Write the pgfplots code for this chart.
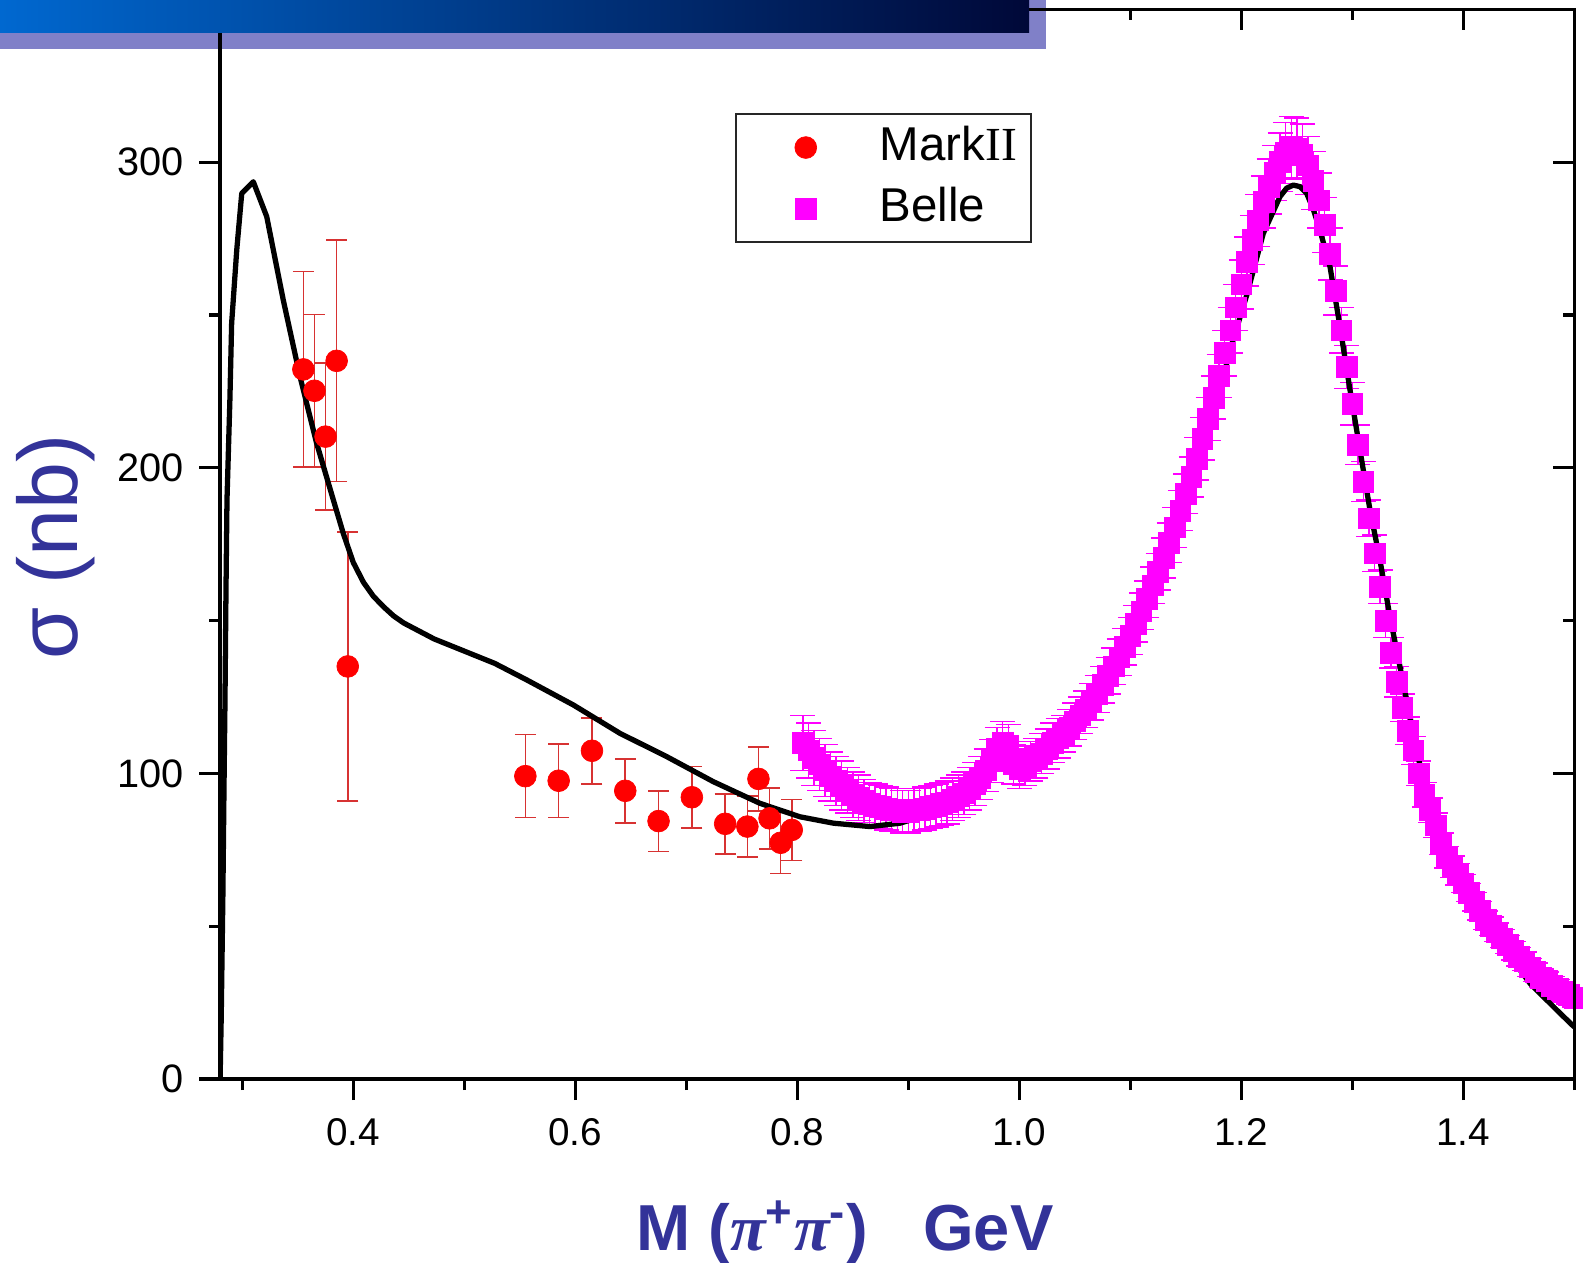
\documentclass[border=0pt]{standalone}
\usepackage{pgfplots}
\pgfplotsset{compat=1.18}
\usepackage{pgfplotstable}
\usepackage{fontspec}
\setmainfont{Liberation Sans}
\newfontfamily\seriffont{Liberation Serif}
\definecolor{lblblue}{RGB}{51,51,153}
\definecolor{bannerL}{RGB}{0,104,208}
\definecolor{bannerR}{RGB}{0,8,56}
\definecolor{shadowc}{RGB}{128,128,200}
\definecolor{bellec}{RGB}{255,0,255}
\definecolor{markred}{RGB}{255,0,0}
\definecolor{errred}{RGB}{215,50,50}

\pgfplotstableread{
x y e
0.355 232.2 32
0.365 225.2 25
0.375 210.2 24
0.385 235.0 39.5
0.395 135.0 44
0.555 99.1 13.6
0.585 97.6 12
0.615 107.4 10.8
0.645 94.3 10.5
0.675 84.4 9.9
0.705 92.2 10
0.735 83.5 9.8
0.755 82.6 10
0.765 98.2 10.5
0.775 85.3 10
0.785 77.3 10
0.795 81.5 10
}\markii

\pgfplotstableread{
x y e
0.805 110 9
0.810 107.5 9
0.815 105 9
0.820 103 8.5
0.825 101 8.5
0.830 99 8
0.835 97.5 8
0.840 96 8
0.845 94.5 7.5
0.850 93 7.5
0.855 92 7.5
0.860 91 7
0.865 90 7
0.870 89.5 7
0.875 89 7
0.880 88.5 7
0.885 88 7
0.890 88 7
0.895 87.5 7
0.900 87.5 7
0.905 88 7
0.910 88 7
0.915 88.5 7
0.920 89 7
0.925 89.5 7
0.930 90 7
0.935 90.5 7
0.940 91.5 7
0.945 92.5 7
0.950 93.5 7
0.955 95 7
0.960 96.5 7
0.965 98.5 7
0.970 101 7
0.975 104 7
0.980 108 7
0.985 110 7
0.990 109 7
0.995 103 6.5
1.000 101.5 6.5
1.005 102.5 6.5
1.010 104 6.5
1.015 105 6.5
1.020 106.5 6.5
1.025 108 6.5
1.030 110 6.5
1.035 111.5 6.5
1.040 113 6
1.045 115 6
1.050 117 6
1.055 119 6
1.060 121 6
1.065 123.5 6
1.070 126 6
1.075 129 6
1.080 132 6
1.085 135 6
1.090 138 6
1.095 141.5 6
1.100 145 6
1.105 149 6
1.110 153 6
1.115 157 6
1.120 161.5 6
1.125 166 6
1.130 170.5 6.5
1.135 175.5 6.5
1.140 180.5 6.5
1.145 186 6.5
1.150 191.5 6.5
1.155 197 6.5
1.160 203 7
1.165 209.5 7
1.170 216 7
1.175 223 7
1.180 230 7
1.185 237.5 7.5
1.190 245 7.5
1.195 252.5 7.5
1.200 260 8
1.205 267.5 8
1.210 274.5 8
1.215 281 8.5
1.220 287 8.5
1.225 292 9
1.230 296.5 9
1.235 300 9.5
1.240 303 10
1.245 305 10
1.250 304.5 10
1.255 302.5 10
1.260 299 9.5
1.265 294 9.5
1.270 287.5 9
1.275 279.5 9
1.280 270 8.5
1.285 258 8
1.290 245 7.5
1.295 233 7
1.300 221 7
1.305 207.5 6.5
1.310 195.5 6.5
1.315 183.5 6
1.320 172 6
1.325 161 5.5
1.330 150 5.5
1.335 139.5 5
1.340 130 5
1.345 121.5 4.5
1.350 114 4.5
1.355 107.5 4.5
1.360 100 4
1.365 93 4
1.370 88 4
1.375 83 4
1.380 77 3.5
1.385 72.5 3.5
1.390 69.5 3.5
1.395 67 3.5
1.400 64 3
1.405 61 3
1.410 58 3
1.415 55 3
1.420 52 3
1.425 50 3
1.430 48 3
1.435 46 3
1.440 44 3
1.445 42 3
1.450 40 3
1.455 38.5 3
1.460 36.5 3
1.465 35 3
1.470 33 3
1.475 32 3
1.480 30.5 3
1.485 29.5 3
1.490 28.5 3
1.495 27.5 3
1.500 26.5 3
}\belle

\begin{document}
\begin{tikzpicture}
\useasboundingbox (0,0) rectangle (15.83cm,12.62cm);
\fill[shadowc] (0,12.13cm) rectangle (10.46cm,12.62cm);
\begin{axis}[
  at={(2.201cm,1.83cm)}, anchor=south west,
  scale only axis, width=13.542cm, height=10.696cm,
  xmin=0.28, xmax=1.5, ymin=0, ymax=350,
  xtick={0.4,0.6,0.8,1.0,1.2,1.4},
  xticklabels={0.4,0.6,0.8,1.0,1.2,1.4},
  minor xtick={0.3,0.5,0.7,0.9,1.1,1.3,1.5},
  ytick={0,100,200,300},
  minor ytick={50,150,250,350},
  tick align=outside, xtick pos=bottom, ytick pos=left,
  major tick length=0.21cm, minor tick length=0.11cm,
  every tick/.style={black, line width=0.95pt},
  axis line style={line width=0.95pt},
  /pgf/number format/assume math mode=true,
  xticklabel style={font=\fontsize{11}{13}\selectfont, yshift=-0.06cm},
  yticklabel style={font=\fontsize{11.3}{13}\selectfont, xshift=-0.03cm},
  legend style={at={(0.3802,0.9029)}, anchor=north west, draw=black!85,
    line width=0.45pt, font=\fontsize{13.5}{15}\selectfont,
    inner xsep=0pt, inner ysep=0.03cm, row sep=0pt,
    nodes={inner xsep=0.14cm, inner ysep=0.095cm, text height=0.34cm, text depth=0.08cm}},
  legend cell align=left,
  legend image code/.code={%
    \path[draw=none, fill=none] (0cm,-0.1cm) rectangle (1.30cm,0.1cm);
    \draw[mark repeat=2, mark phase=2, #1] plot coordinates {(0cm,0cm) (0.70cm,0cm) (1.30cm,0cm)};},
]
\addplot[only marks, mark=*, mark size=3.1pt, color=markred,
  mark options={fill=markred, draw=markred, line width=0.2pt},
  error bars/.cd, y dir=both, y explicit,
  error bar style={line width=0.45pt, errred},
  error mark options={rotate=90, mark size=0.105cm, line width=0.45pt, errred}]
  table[x=x, y=y, y error=e]{\markii};
\addlegendentry{Mark{\seriffont II}}
\addplot[only marks, mark=square*, mark size=2.95pt, color=bellec,
  mark options={fill=bellec, draw=bellec, line width=0.2pt},
  error bars/.cd, y dir=both, y explicit,
  error bar style={line width=0.4pt, bellec},
  error mark options={rotate=90, mark size=0.125cm, line width=0.4pt, bellec}]
  table[x=x, y=y, y error=e]{\belle};
\addlegendentry{Belle}
\addplot[black, line width=1.5pt, line join=round, forget plot] coordinates {
(0.2800,0) (0.2810,20) (0.2825,60) (0.2835,95) (0.2844,124) (0.2853,160)
(0.2862,189.5) (0.2888,222) (0.2904,247.3) (0.2950,271.3) (0.2995,289.8)
(0.3099,293.6) (0.3220,282.2) (0.3369,254.9) (0.3520,229.8) (0.3670,208)
(0.3820,189.5) (0.3910,178.5) (0.4000,169) (0.4092,162.5) (0.4180,158)
(0.4273,154.5) (0.4364,151.5) (0.4455,149.2)
(0.4728,144) (0.5001,140) (0.5274,136) (0.5562,130.6) (0.5982,122.4)
(0.6403,113.1) (0.6823,105.5) (0.7243,97.3) (0.7664,90.2) (0.8024,85.8)
(0.8327,83.7) (0.8655,82.6) (0.8925,83.7) (0.9166,86.4) (0.9405,90.2)
(0.9616,95.6) (0.9766,101.1) (0.9841,104.9) (0.9901,104) (0.9970,101.5)
(1.0031,100.2) (1.0136,101.8) (1.0216,103.3) (1.0337,107.7) (1.0727,126.2)
(1.1027,145.8) (1.1268,165.5) (1.1477,184) (1.1628,201.5) (1.1748,216.7)
(1.1898,238.5) (1.2049,256.5) (1.2198,276.7) (1.2348,288.7) (1.2408,291.5)
(1.2468,292.5) (1.2528,292) (1.2589,289.8) (1.2649,284.5) (1.2708,277.8)
(1.2799,265.8) (1.2889,246.2) (1.2979,225.5) (1.3069,205.8) (1.3159,186.2)
(1.3249,169.8) (1.3339,151.3) (1.3459,129.5) (1.3579,107.7) (1.3640,97.8)
(1.3790,81.5) (1.3940,68.4) (1.4120,56.4) (1.4331,44.4) (1.4601,31.3)
(1.4841,22.6) (1.5000,17)
};
\end{axis}
\begin{axis}[
  at={(2.201cm,1.83cm)}, anchor=south west,
  scale only axis, width=13.542cm, height=10.696cm,
  xmin=0.28, xmax=1.5, ymin=0, ymax=350,
  xtick={0.4,0.6,0.8,1.0,1.2,1.4},
  minor xtick={0.3,0.5,0.7,0.9,1.1,1.3,1.5},
  ytick={0,100,200,300},
  minor ytick={50,150,250,350},
  xticklabels={}, yticklabels={},
  tick align=inside, xtick pos=top, ytick pos=right,
  major tick length=0.21cm, minor tick length=0.11cm,
  every tick/.style={black, line width=0.95pt},
  axis line style={line width=0.95pt},
]
\end{axis}
\shade[left color=bannerL, right color=bannerR] (0,12.293cm) rectangle (10.29cm,12.62cm);
\node[rotate=90, anchor=base, text=lblblue, font=\fontsize{24}{28}\selectfont] at (0.77cm,7.15cm) {σ (nb)};
\node[anchor=base, text=lblblue, font=\fontsize{18.5}{22}\selectfont\bfseries] at (8.45cm,0.12cm)
  {M ({\seriffont\itshape π}\textsuperscript{+}{\seriffont\itshape π}\textsuperscript{-})\hspace{0.55cm}GeV};
\end{tikzpicture}
\end{document}
